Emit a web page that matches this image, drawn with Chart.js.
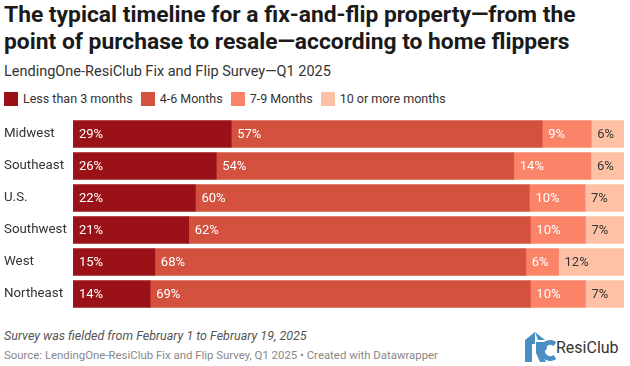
<!DOCTYPE html>
<html>
<head>
<meta charset="utf-8">
<script src="https://cdn.jsdelivr.net/npm/chart.js@4"></script>
<style>
  body { margin: 0; background: #fff; font-family: Roboto, sans-serif; }
  #wrap { position: relative; width: 630px; height: 366px; overflow: hidden; }
  #title { position: absolute; left: 4px; top: 1px; font-size: 22.8px; font-weight: 700; line-height: 27px; color: #1a1a1a; }
  #sub { position: absolute; left: 4px; top: 63px; font-size: 14.5px; color: #333; }
  #legend { position: absolute; left: 4px; top: 91px; font-size: 12.5px; color: #333; display: flex; }
  #legend span.item { display: flex; align-items: center; margin-right: 8px; }
  #legend span.sw { width: 14px; height: 14px; margin-right: 5px; display: inline-block; }
  #chartBox { position: absolute; left: 0; top: 106px; width: 630px; height: 216px; }
  #note { position: absolute; left: 4px; top: 328px; font-size: 12.5px; font-style: italic; color: #555; }
  #source { position: absolute; left: 4px; top: 348px; font-size: 11.4px; color: #888; }
  #logo { position: absolute; left: 522px; top: 332px; width: 104px; height: 30px; }
  #logo .txt { position: absolute; left: 34px; top: 6px; font-size: 16px; color: #333; }
</style>
</head>
<body>
<div id="wrap">
  <div id="title">The typical timeline for a fix-and-flip property—from the<br>point of purchase to resale—according to home flippers</div>
  <div id="sub">LendingOne-ResiClub Fix and Flip Survey—Q1 2025</div>
  <div id="legend"></div>
  <div id="chartBox"><canvas id="chart"></canvas></div>
  <div id="note">Survey was fielded from February 1 to February 19, 2025</div>
  <div id="source">Source: LendingOne-ResiClub Fix and Flip Survey, Q1 2025 • Created with Datawrapper</div>
  <div id="logo">
    <svg width="34" height="30" viewBox="0 0 34 30">
      <polygon points="13,0 3,8 3,30 10,30 10,12 13,12 13,0" fill="#4a8fc4"/>
      <polygon points="13,0 23,8 16,8" fill="#4a8fc4"/>
      <path d="M14 10 h6 a5 5 0 0 1 0 10 h-1 l5 10 h-6 l-4 -9 z" fill="#4a8fc4"/>
      <path d="M33 12 a8 8 0 1 0 0 13" stroke="#4a8fc4" stroke-width="5" fill="none"/>
    </svg>
    <span class="txt">ResiClub</span>
  </div>
</div>
<script>
const regions = ['Midwest', 'Southeast', 'U.S.', 'Southwest', 'West', 'Northeast']
const seriesNames = ['Less than 3 months', '4-6 Months', '7-9 Months', '10 or more months']
const lessThan3 = [29, 26, 22, 21, 15, 14]
const months4to6 = [57, 54, 60, 62, 68, 69]
const months7to9 = [9, 14, 10, 10, 6, 10]
const months10plus = [6, 6, 7, 7, 12, 7]
const colors = ['#9a1218', '#d45140', '#fb8468', '#fec1a5']
const labelColors = ['#ffffff', '#ffffff', '#ffffff', '#333333']

const raw = [lessThan3, months4to6, months7to9, months10plus]
// rows don't always add to 100, scale each row to full width like datawrapper does
const totals = regions.map((r, i) => raw.reduce((s, arr) => s + arr[i], 0))

const legend = document.getElementById('legend')
seriesNames.forEach((name, k) => {
  const it = document.createElement('span')
  it.className = 'item'
  it.innerHTML = `<span class="sw" style="background:${colors[k]}"></span>${name}`
  legend.appendChild(it)
})

const barLabels = {
  id: 'barLabels',
  afterDatasetsDraw(chart) {
    const ctx = chart.ctx
    ctx.save()
    ctx.font = '13px Roboto'
    ctx.textBaseline = 'middle'
    ctx.textAlign = 'left'
    chart.data.datasets.forEach((ds, k) => {
      chart.getDatasetMeta(k).data.forEach((bar, i) => {
        ctx.fillStyle = labelColors[k]
        ctx.fillText(raw[k][i] + '%', bar.base + 6, bar.y + 1)
      })
    })
    ctx.restore()
  }
}

new Chart(document.getElementById('chart'), {
  type: 'bar',
  data: {
    labels: regions,
    datasets: seriesNames.map((name, k) => ({
      label: name,
      data: raw[k].map((v, i) => v / totals[i] * 100),
      backgroundColor: colors[k],
      borderWidth: 0,
      barThickness: 27,
    })),
  },
  options: {
    indexAxis: 'y',
    responsive: true,
    maintainAspectRatio: false,
    animation: false,
    layout: { padding: { left: 4, right: 6, top: 0, bottom: 0 } },
    plugins: { legend: { display: false }, tooltip: { enabled: false } },
    scales: {
      x: { stacked: true, min: 0, max: 100, display: false },
      y: {
        stacked: true,
        grid: { display: false },
        border: { display: false },
        ticks: { color: '#333', font: { family: 'Roboto', size: 13.3 }, crossAlign: 'far', padding: 4 },
        afterFit(scale) { scale.width = 69 },
      },
    },
  },
  plugins: [barLabels],
})
</script>
</body>
</html>
